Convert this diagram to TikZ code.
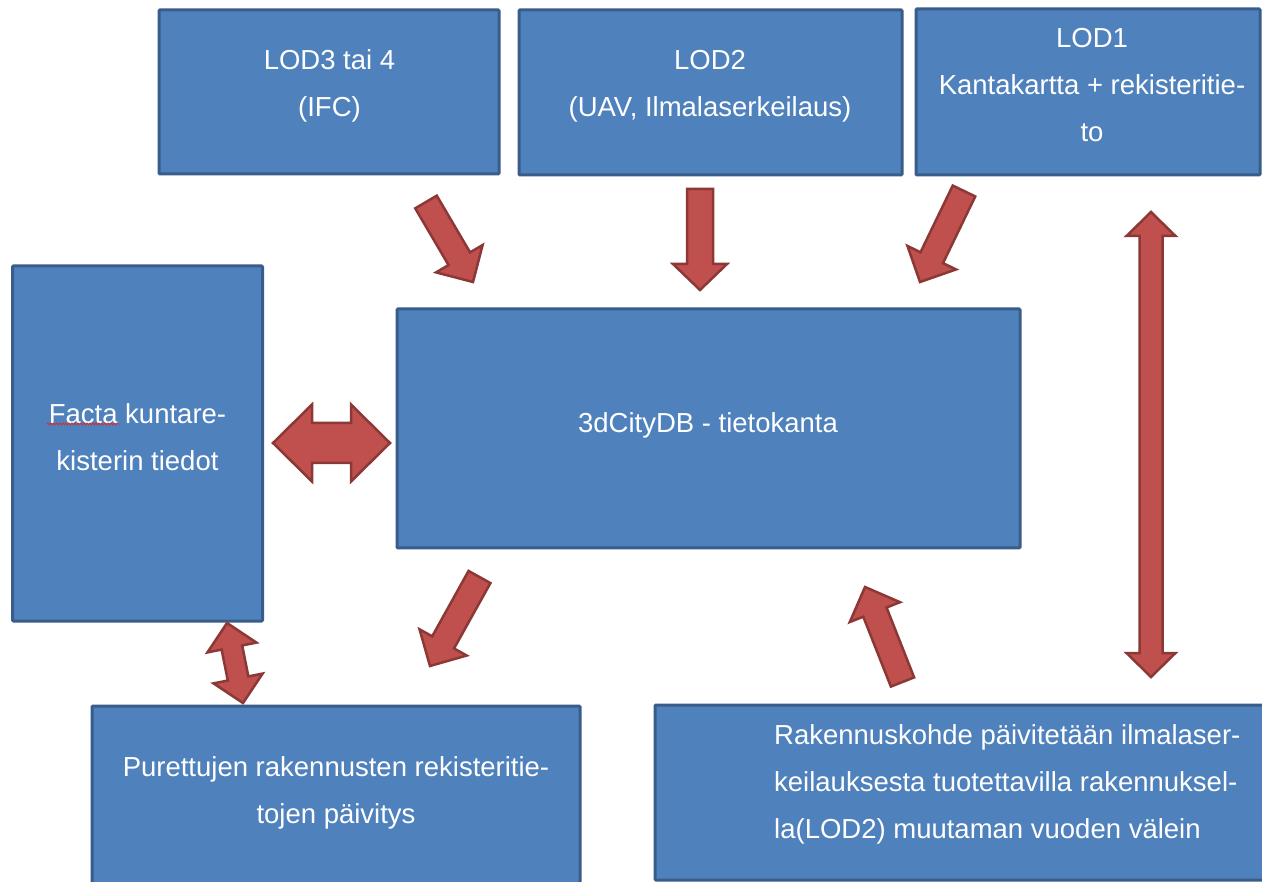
\documentclass[tikz,border=0pt]{standalone}
\usepackage{fontspec}
\setmainfont{Liberation Sans}
\usetikzlibrary{calc,decorations.pathmorphing}
\definecolor{boxfill}{HTML}{4F81BD}
\definecolor{boxline}{HTML}{385D8A}
\definecolor{arrfill}{HTML}{C0504D}
\definecolor{arrline}{HTML}{8C3836}
\definecolor{spellred}{HTML}{D03030}
\tikzset{
  box/.style={draw=boxline, fill=boxfill, line width=3pt, rectangle, inner sep=0pt, rounded corners=1pt},
  lbl/.style={text=white, inner sep=0pt, align=center, font=\fontsize{27.5}{47}\selectfont},
  arrstyle/.style={draw=arrline, fill=arrfill, line width=2.5pt, line join=miter},
}
% tail, tip, shaft half width, head half width, head length
\newcommand\blockarr[5]{%
  \coordinate (bh) at ($(#2)!#5!(#1)$);
  \draw[arrstyle] ($(#1)!#3!90:(#2)$) -- ($(bh)!#3!-90:(#1)$) -- ($(bh)!#4!-90:(#1)$) -- (#2)
     -- ($(bh)!#4!90:(#1)$) -- ($(bh)!#3!90:(#1)$) -- ($(#1)!#3!-90:(#2)$) -- cycle;}
% end A, end B, shaft half width, head half width, head length
\newcommand\dblarr[5]{%
  \coordinate (ha) at ($(#1)!#5!(#2)$);
  \coordinate (hb) at ($(#2)!#5!(#1)$);
  \draw[arrstyle] (#1) -- ($(ha)!#4!90:(#2)$) -- ($(ha)!#3!90:(#2)$) -- ($(hb)!#3!-90:(#1)$)
     -- ($(hb)!#4!-90:(#1)$) -- (#2) -- ($(hb)!#4!90:(#1)$) -- ($(hb)!#3!90:(#1)$)
     -- ($(ha)!#3!-90:(#2)$) -- ($(ha)!#4!-90:(#2)$) -- cycle;}
\begin{document}
\begin{tikzpicture}[x=1pt,y=-1pt]
\useasboundingbox (0,0) rectangle (1262,882);
\clip (0,0) rectangle (1262,882);
\fill[white] (0,0) rectangle (1262,882);

% boxes
\node[box, minimum width=340pt, minimum height=164pt] (lod3) at (329,92) {};
\node[box, minimum width=383pt, minimum height=165pt] (lod2) at (710.5,92.5) {};
\node[box, minimum width=344pt, minimum height=166pt] (lod1) at (1088,92) {};
\node[box, minimum width=623pt, minimum height=239pt] (db) at (708.5,428.5) {};
\node[box, minimum width=250pt, minimum height=355pt] (facta) at (137.5,443.5) {};
\node[box, minimum width=488pt, minimum height=214pt] (pur) at (336,813) {};
\node[box, minimum width=645pt, minimum height=175pt] (rak) at (977.5,792.5) {};

% texts
\node[lbl] (tlod3) at (329.5,84) {\strut LOD3 tai 4\\\strut (IFC)};
\node[lbl] (tlod2) at (710,84) {\strut LOD2\\\strut (UAV, Ilmalaserkeilaus)};
\node[lbl] (tlod1) at (1092,85.6) {\strut LOD1\\\strut Kantakartta + rekisteritie-\\\strut to};
\node[lbl] (tdb) at (708,423.6) {\strut 3dCityDB - tietokanta};
\node[lbl] (tfacta) at (137.5,437.6) {\strut Facta kuntare-\\\strut kisterin tiedot};
\node[lbl] (tpur) at (336,790.6) {\strut Purettujen rakennusten rekisteritie-\\\strut tojen päivitys};
\node[lbl, align=left, anchor=west] (trak) at (774,781.6) {\strut Rakennuskohde päivitetään ilmalaser-\\\strut keilauksesta tuotettavilla rakennuksel-\\\strut la(LOD2) muutaman vuoden välein};

% spell-check underline
\coordinate (sp1) at (47,424);
\coordinate (sp2) at (119,424);
\draw[spellred, line width=0.8pt, decorate, decoration={snake, amplitude=1pt, segment length=3pt}] (sp1) -- (sp2);

% arrow end points
\coordinate (a1t) at (426,202);   \coordinate (a1h) at (473,282);
\coordinate (a2t) at (700,189);   \coordinate (a2h) at (700,290);
\coordinate (a3t) at (964,191);   \coordinate (a3h) at (920,282);
\coordinate (a4t) at (479.5,577); \coordinate (a4h) at (430,666);
\coordinate (a5t) at (902.5,682); \coordinate (a5h) at (865,587);
\coordinate (d1a) at (1151,212);  \coordinate (d1b) at (1151,677);
\coordinate (d2a) at (273,443);   \coordinate (d2b) at (390,443);
\coordinate (d3a) at (227,623);   \coordinate (d3b) at (243,703);

\blockarr{a1t}{a1h}{12.5pt}{27pt}{27pt}
\blockarr{a2t}{a2h}{13pt}{27pt}{26pt}
\blockarr{a3t}{a3h}{12.5pt}{27pt}{27pt}
\blockarr{a4t}{a4h}{12.5pt}{27pt}{27pt}
\blockarr{a5t}{a5h}{12.5pt}{27pt}{27pt}
\dblarr{d1a}{d1b}{11.5pt}{24.5pt}{24pt}
\dblarr{d2a}{d2b}{20pt}{38.5pt}{39pt}
\dblarr{d3a}{d3b}{10.5pt}{25pt}{25pt}
\end{tikzpicture}
\end{document}
